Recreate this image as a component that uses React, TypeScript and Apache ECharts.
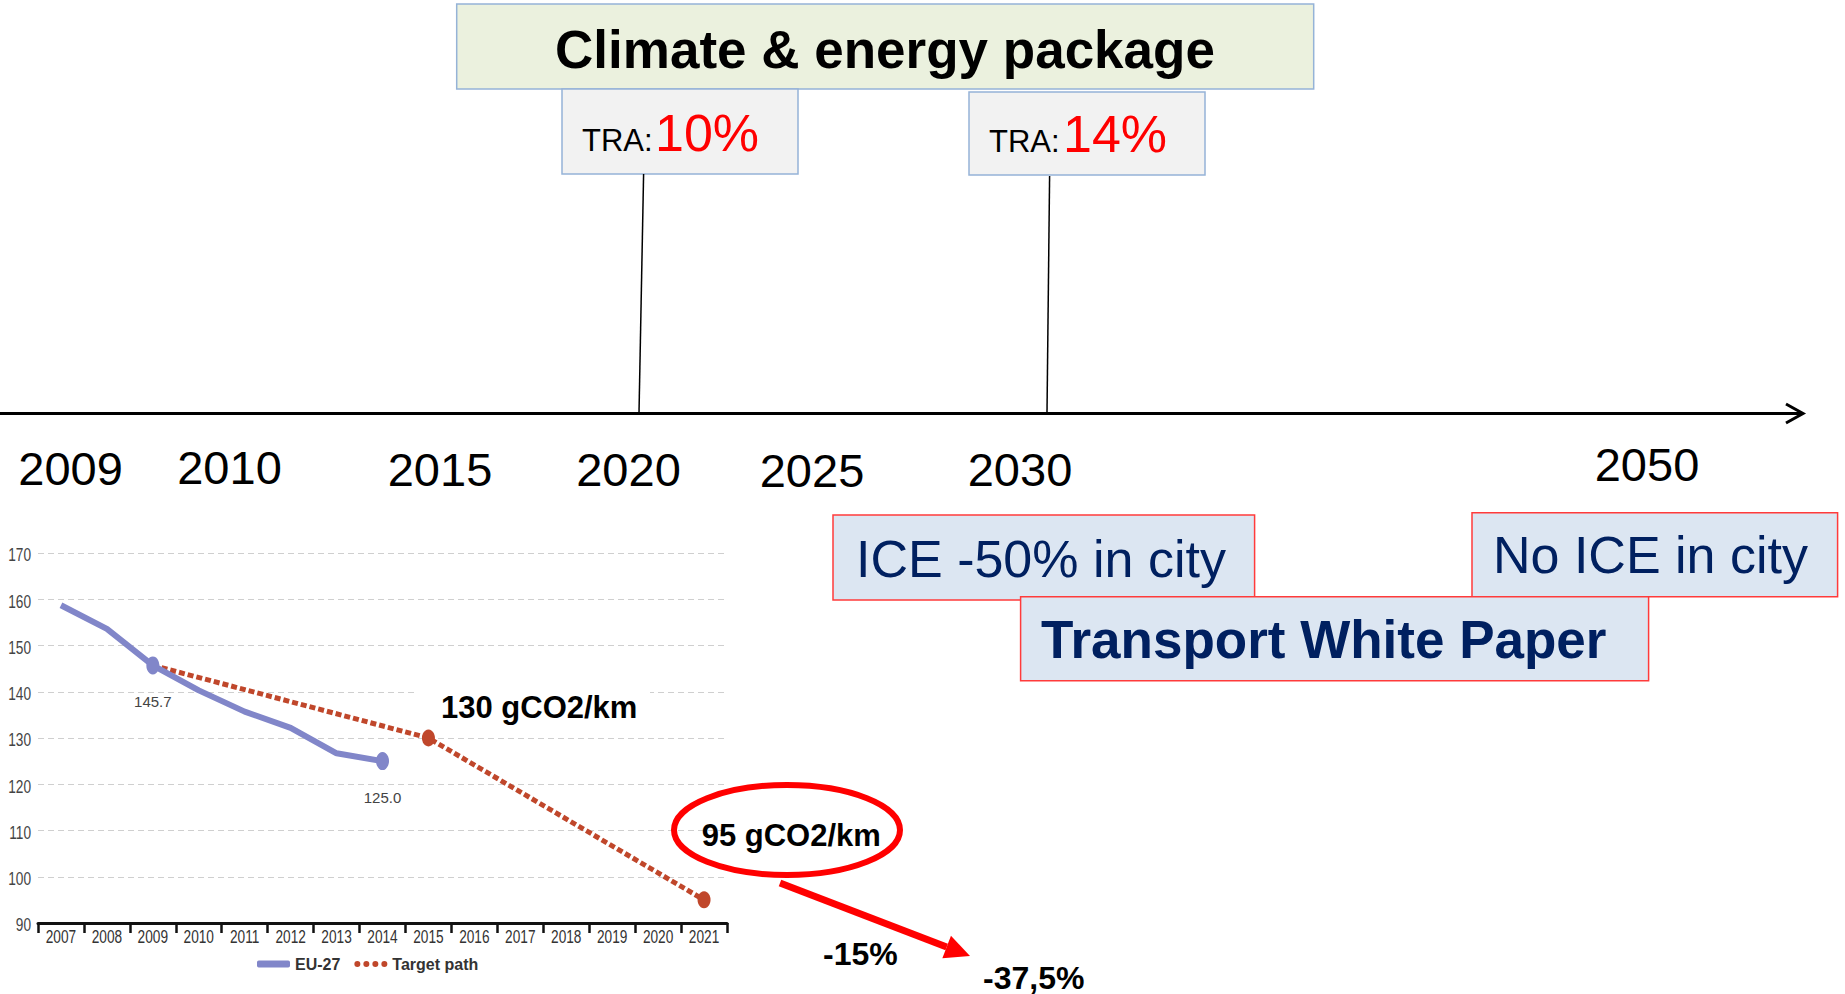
import React, { useEffect, useRef } from 'react';
import * as echarts from 'echarts';

// ---- data ----
const years = ['2007', '2008', '2009', '2010', '2011', '2012', '2013', '2014', '2015', '2016', '2017', '2018', '2019', '2020', '2021'];
const euValues: (number | null)[] = [158.7, 153.6, 145.7, 140.3, 135.7, 132.2, 126.7, 125.0, null, null, null, null, null, null, null];
const targetValues: (number | null)[] = [null, null, 145.7, null, null, null, null, null, 130, null, null, null, null, null, 95];
const euLabelled = ['2009', '2014'];
const targetMarked = ['2015', '2021'];
const yMin = 90;
const yMax = 170;
const yStep = 10;
const seriesNames = ['EU-27', 'Target path'];
const timelineYears = ['2009', '2010', '2015', '2020', '2025', '2030', '2050'];
const traValues = ['10%', '14%'];
const targetNotes = ['130 gCO2/km', '95 gCO2/km'];
const reductions = ['-15%', '-37,5%'];

// ---- layout ----
const ARIAL = "'Liberation Sans', Arial, sans-serif";
const timelineX = [70.6, 229.5, 440, 628.5, 812, 1020, 1647];
const timelineY = [468, 467, 469.5, 469.5, 470.6, 469.5, 464.8];

function txt(text: string, x: number, y: number, size: number, o: any = {}) {
  const align = o.align || 'left';
  return {
    type: 'text',
    x,
    y,
    z: o.z ?? 20,
    scaleX: o.scaleX ?? 1,
    silent: true,
    style: {
      text,
      fill: o.fill || '#000',
      fontSize: size,
      fontWeight: o.bold ? 'bold' : 'normal',
      fontFamily: o.family || ARIAL,
      align,
      textAlign: align,
      verticalAlign: 'middle',
      textVerticalAlign: 'middle',
    },
  };
}

function box(x: number, y: number, w: number, h: number, fill: string, stroke: string, z = 10) {
  return {
    type: 'rect',
    z,
    silent: true,
    shape: { x, y, width: w, height: h },
    style: { fill, stroke, lineWidth: 1.5 },
  };
}

function line(x1: number, y1: number, x2: number, y2: number, w: number, color = '#000', z = 15) {
  return {
    type: 'line',
    z,
    silent: true,
    shape: { x1, y1, x2, y2 },
    style: { stroke: color, lineWidth: w },
  };
}

const dotsIcon =
  'path://M0,3a3,3,0,1,0,6,0a3,3,0,1,0,-6,0zM9,3a3,3,0,1,0,6,0a3,3,0,1,0,-6,0zM18,3a3,3,0,1,0,6,0a3,3,0,1,0,-6,0zM27,3a3,3,0,1,0,6,0a3,3,0,1,0,-6,0z';

function buildGraphics() {
  const ax1 = 780, ay1 = 883, tipX = 970, tipY = 956;
  const dx = tipX - ax1, dy = tipY - ay1;
  const len = Math.hypot(dx, dy);
  const ux = dx / len, uy = dy / len;
  const headL = 25, headW = 12;
  const bx = tipX - ux * headL, by = tipY - uy * headL;

  return [
    box(456.7, 4, 857, 85, '#ebf1de', '#95b3d7'),
    txt('Climate & energy package', 885, 49, 53, { bold: true, align: 'center' }),
    box(562, 89, 236, 85, '#f2f2f2', '#95b3d7'),
    txt('TRA:', 582, 152 - 0.358 * 31, 31),
    txt(traValues[0], 655, 152 - 0.358 * 52, 52, { fill: '#ff0000' }),
    box(969, 92, 236, 83, '#f2f2f2', '#95b3d7'),
    txt('TRA:', 989, 153 - 0.358 * 31, 31),
    txt(traValues[1], 1063, 153 - 0.358 * 52, 52, { fill: '#ff0000' }),
    line(643.6, 174, 639, 413, 1.5),
    line(1049.6, 176, 1047, 413, 1.5),
    line(0, 413.5, 1803, 413.5, 3),
    {
      type: 'polyline',
      z: 15,
      silent: true,
      shape: { points: [[1786, 404], [1803, 413.5], [1786, 423]] },
      style: { stroke: '#000', lineWidth: 3, fill: null },
    },
    ...timelineYears.map((y, i) => txt(y, timelineX[i], timelineY[i], 47, { align: 'center' })),
    box(833, 515, 421.6, 85, '#dce6f2', '#ff3b3b', 10),
    txt('ICE -50% in city', 856, 578 - 0.358 * 52, 52, { fill: '#002060' }),
    box(1472, 512.7, 365.6, 84, '#dce6f2', '#ff3b3b', 10),
    txt('No ICE in city', 1493, 574 - 0.358 * 52, 52, { fill: '#002060' }),
    box(1020.6, 596.7, 628, 84, '#dce6f2', '#ff3b3b', 12),
    txt('Transport White Paper', 1041, 658 - 0.358 * 53, 53, { fill: '#002060', bold: true, z: 22 }),
    { type: 'rect', z: 1, silent: true, shape: { x: 418, y: 687, width: 232, height: 38 }, style: { fill: '#fff' } },
    txt(targetNotes[0], 441, 718.3 - 0.358 * 31, 31, { bold: true }),
    {
      type: 'ellipse',
      z: 20,
      silent: true,
      shape: { cx: 787, cy: 830, rx: 113, ry: 45 },
      style: { stroke: '#ff0000', lineWidth: 6, fill: null },
    },
    txt(targetNotes[1], 701.7, 847 - 0.358 * 31, 31, { bold: true }),
    line(ax1, ay1, bx, by, 7, '#ff0000', 20),
    {
      type: 'polygon',
      z: 20,
      silent: true,
      shape: {
        points: [
          [tipX, tipY],
          [bx - uy * headW, by + ux * headW],
          [bx + uy * headW, by - ux * headW],
        ],
      },
      style: { fill: '#ff0000' },
    },
    txt(reductions[0], 823, 965 - 0.358 * 32, 32, { bold: true }),
    txt(reductions[1], 983, 977.5, 32, { bold: true }),
  ];
}

function buildOption(graphics: any[]) {
  const euColor = '#8186c9';
  const tgColor = '#c0472b';

  const euData = euValues.map((v, i) =>
    euLabelled.includes(years[i])
      ? {
          value: v,
          symbol: 'circle',
          symbolSize: [13, 18],
          label: {
            show: true,
            position: 'bottom',
            distance: 20,
            formatter: (p: any) => Number(p.value).toFixed(1),
            color: '#444',
            fontSize: 15,
            fontFamily: ARIAL,
          },
        }
      : { value: v, symbol: 'none' }
  );
  const tgData = targetValues.map((v, i) =>
    targetMarked.includes(years[i])
      ? { value: v, symbol: 'circle', symbolSize: [13, 17] }
      : { value: v, symbol: 'none' }
  );

  return {
    animation: false,
    backgroundColor: '#ffffff',
    grid: { left: 38, top: 553, width: 689, height: 370, containLabel: false },
    legend: {
      left: 252,
      top: 951,
      itemWidth: 33,
      itemHeight: 7,
      itemGap: 14,
      selectedMode: false,
      textStyle: { fontFamily: ARIAL, fontWeight: 'bold', fontSize: 16, color: '#333' },
      data: [
        { name: seriesNames[0], icon: 'roundRect' },
        { name: seriesNames[1], icon: dotsIcon },
      ],
    },
    xAxis: {
      type: 'category',
      data: years,
      boundaryGap: true,
      axisLine: { lineStyle: { color: '#111', width: 3 } },
      axisTick: { show: true, length: 10, lineStyle: { color: '#111', width: 2.5 } },
      axisLabel: { show: false },
      splitLine: { show: false },
    },
    yAxis: {
      type: 'value',
      min: yMin,
      max: yMax,
      interval: yStep,
      axisLine: { show: false },
      axisTick: { show: false },
      axisLabel: { show: false },
      splitLine: { show: true, lineStyle: { color: '#cfcfcf', type: [6, 4], width: 1 } },
    },
    series: [
      {
        name: seriesNames[1],
        type: 'line',
        data: tgData,
        connectNulls: true,
        color: tgColor,
        itemStyle: { color: tgColor },
        lineStyle: { color: tgColor, width: 5, type: [6, 3] },
        showSymbol: true,
        showAllSymbol: true,
        silent: true,
        z: 3,
      },
      {
        name: seriesNames[0],
        type: 'line',
        data: euData,
        color: euColor,
        itemStyle: { color: euColor },
        lineStyle: { color: euColor, width: 6 },
        showSymbol: true,
        showAllSymbol: true,
        silent: true,
        z: 4,
      },
    ],
    graphic: { elements: graphics },
  };
}

export default function App() {
  const ref = useRef<HTMLDivElement>(null);
  useEffect(() => {
    if (!ref.current) return;
    const chart = echarts.init(ref.current, null, { renderer: 'svg' });
    const graphics = buildGraphics();
    chart.setOption(buildOption(graphics) as any);

    // axis tick labels, placed through the chart's own scales, drawn condensed
    const labels: any[] = [];
    const p0 = chart.convertToPixel({ gridIndex: 0 }, [years[0], yMin]) as number[];
    const p1 = chart.convertToPixel({ gridIndex: 0 }, [years[1], yMin]) as number[];
    const band = p1[0] - p0[0];
    years.forEach((y) => {
      const p = chart.convertToPixel({ gridIndex: 0 }, [y, yMin]) as number[];
      labels.push(txt(y, p[0], p[1] + 14, 19, { align: 'center', scaleX: 0.72, fill: '#333', z: 5 }));
    });
    for (let v = yMin; v <= yMax; v += yStep) {
      const p = chart.convertToPixel({ gridIndex: 0 }, [years[0], v]) as number[];
      labels.push(txt(String(v), p[0] - band / 2 - 7, p[1] + 2, 19, { align: 'right', scaleX: 0.72, fill: '#444', z: 5 }));
    }
    chart.setOption({ graphic: { elements: [...graphics, ...labels] } } as any);
    return () => chart.dispose();
  }, []);
  return (
    <div
      ref={ref}
      style={{ position: 'fixed', left: 0, top: 0, width: 1845, height: 994, background: '#fff' }}
    />
  );
}
